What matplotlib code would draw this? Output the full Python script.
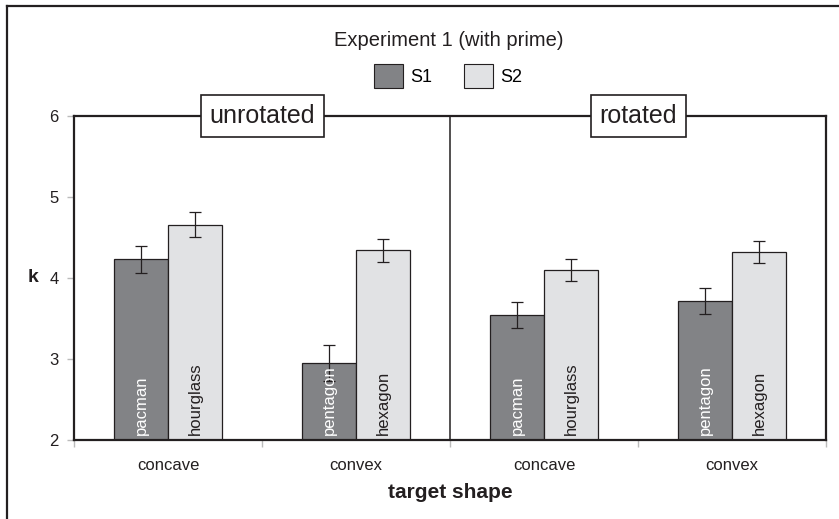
import matplotlib
matplotlib.use("Agg")
import matplotlib.pyplot as plt
from matplotlib.patches import Patch
import numpy as np

plt.rcParams['font.family'] = ['Liberation Sans', 'DejaVu Sans']

# data
groups = ["concave", "convex", "concave", "convex"]
panels = ["unrotated", "rotated"]
s1_labels = ["pacman", "pentagon", "pacman", "pentagon"]
s2_labels = ["hourglass", "hexagon", "hourglass", "hexagon"]
s1_mean = [4.23, 2.95, 3.54, 3.72]
s1_err = [0.17, 0.22, 0.16, 0.16]
s2_mean = [4.66, 4.34, 4.10, 4.32]
s2_err = [0.15, 0.145, 0.135, 0.135]
yticks = [2, 3, 4, 5, 6]

c1 = "#828386"
c2 = "#e1e2e4"
ink = "#231f20"

W, H = 839, 519
fig = plt.figure(figsize=(W / 100, H / 100), dpi=100)

# outer frame (left and top edges)
fig.add_artist(plt.Line2D([6.5 / W, 6.5 / W], [0, 1 - 6 / H], transform=fig.transFigure,
                          color=ink, lw=1.6))
fig.add_artist(plt.Line2D([6.5 / W, 1], [1 - 6 / H, 1 - 6 / H], transform=fig.transFigure,
                          color=ink, lw=1.6))

ax = fig.add_axes([74 / W, (H - 440) / H, (826 - 74) / W, (440 - 116) / H])
x = np.arange(len(groups))
bw = 0.287

ax.bar(x - bw / 2, np.array(s1_mean) - 2, bw, bottom=2, color=c1, edgecolor=ink,
       lw=0.9, zorder=2)
ax.bar(x + bw / 2, np.array(s2_mean) - 2, bw, bottom=2, color=c2, edgecolor=ink,
       lw=0.9, zorder=2)
ax.errorbar(x - bw / 2, s1_mean, yerr=s1_err, fmt="none", ecolor=ink,
            elinewidth=0.9, capsize=4, capthick=0.9, zorder=3)
ax.errorbar(x + bw / 2, s2_mean, yerr=s2_err, fmt="none", ecolor=ink,
            elinewidth=0.9, capsize=4, capthick=0.9, zorder=3)

for xi, l1, l2 in zip(x, s1_labels, s2_labels):
    ax.text(xi - bw / 2, 2.06, l1, rotation=90, ha="center", va="bottom",
            color="white", fontsize=12, zorder=4)
    ax.text(xi + bw / 2, 2.06, l2, rotation=90, ha="center", va="bottom",
            color=ink, fontsize=12, zorder=4)

ax.set_xlim(-0.5, 3.5)
ax.set_ylim(2, 6)
ax.set_yticks(yticks)
ax.set_yticklabels([str(t) for t in yticks], fontsize=12, color=ink)
ax.set_xticks(x)
ax.set_xticklabels(groups, fontsize=12, color=ink)
ax.tick_params(axis="x", length=0, pad=13)
ax.set_xticks([-0.5, 0.5, 1.5, 2.5, 3.5], minor=True)
ax.tick_params(axis="x", which="minor", length=5, color="#bbbbbb", width=1, direction="out")
ax.tick_params(axis="y", length=5, color="#bbbbbb", width=1, pad=6)

for s in ax.spines.values():
    s.set_linewidth(1.6)
    s.set_color(ink)
ax.axvline(1.5, color=ink, lw=1.1, zorder=1)

ax.set_xlabel("target shape", fontsize=15, fontweight="bold", labelpad=7, color=ink)
ax.set_ylabel("k", fontsize=14, fontweight="bold", rotation=0, labelpad=12,
              va="center", color=ink)

# panel headers
for cx, name in zip([0.5, 2.5], panels):
    ax.text(cx, 6.0, name, ha="center", va="center", fontsize=18, color=ink,
            zorder=5, clip_on=False,
            bbox=dict(boxstyle="square,pad=0.35", fc="white", ec=ink, lw=1.2))

fig.text(449 / W, 1 - 41 / H, "Experiment 1 (with prime)", ha="center", va="center",
         fontsize=14.5, color=ink)
handles = [Patch(fc=c1, ec=ink, lw=0.8, label="S1"),
           Patch(fc=c2, ec=ink, lw=0.8, label="S2")]
fig.legend(handles=handles, loc="center", bbox_to_anchor=(448 / W, 1 - 76 / H), ncol=2,
           frameon=False, fontsize=13, handlelength=1.6, handleheight=1.6,
           handletextpad=0.4, columnspacing=1.8)

fig.savefig("out.png", dpi=100)
